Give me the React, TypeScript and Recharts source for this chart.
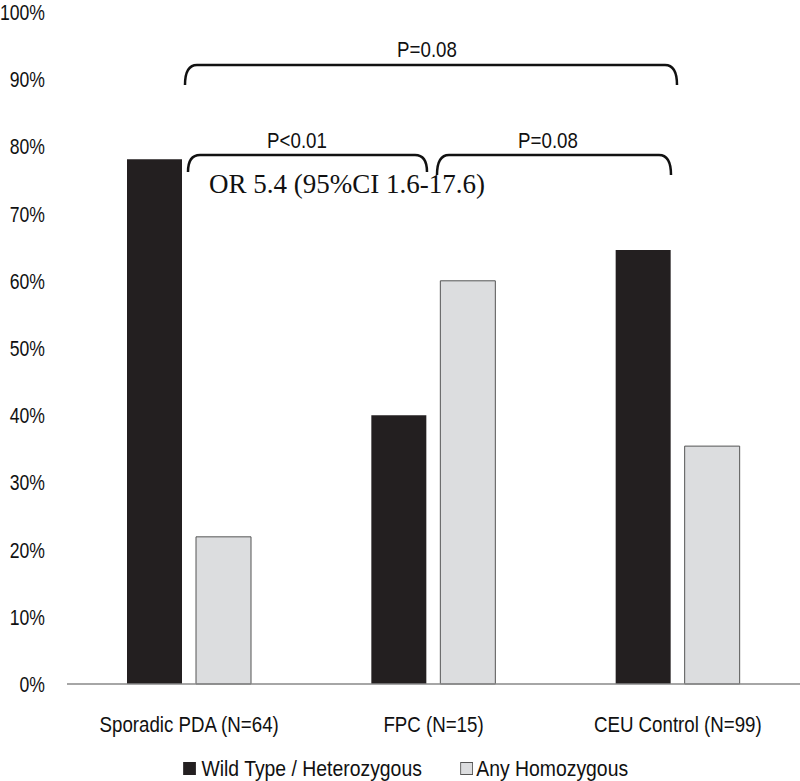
import React from 'react';
import { BarChart, Bar, XAxis, YAxis, Customized } from 'recharts';

const groups = ['Sporadic PDA (N=64)', 'FPC (N=15)', 'CEU Control (N=99)'];
const wildType = [78.1, 40.0, 64.6];
const homozygous = [21.9, 60.0, 35.4];
const yTicks = [0, 10, 20, 30, 40, 50, 60, 70, 80, 90, 100];

const data = groups.map((g, i) => ({ group: g, wild: wildType[i], homo: homozygous[i] }));

const sans = '"Liberation Sans", Arial, sans-serif';
const serif = '"Liberation Serif", "DejaVu Serif", serif';
const squeeze = 0.85;

const XTick = ({ x, y, payload }: any) => (
  <g transform={`translate(${x},${y})`}>
    <text transform={`scale(${squeeze},1)`} textAnchor="middle" dy="0.71em" fontFamily={sans} fontSize={22} fill="#111">
      {payload.value}
    </text>
  </g>
);

const YTick = ({ x, y, payload }: any) => (
  <g transform={`translate(${x},${y})`}>
    <text transform="scale(0.8,1)" textAnchor="end" dy="0.36em" fontFamily={sans} fontSize={22} fill="#111">
      {payload.value}%
    </text>
  </g>
);

const Label = ({ x, y, children }: any) => (
  <g transform={`translate(${x},${y})`}>
    <text transform={`scale(${squeeze},1)`} textAnchor="middle" dominantBaseline="central" fontFamily={sans} fontSize={22} fill="#111">
      {children}
    </text>
  </g>
);

const bracket = (x0: number, x1: number, top: number, bottom: number) =>
  `M${x0},${bottom} Q${x0},${top} ${x0 + 12},${top} L${x1 - 12},${top} Q${x1},${top} ${x1},${bottom}`;

const Brackets = () => (
  <g>
    <path d={bracket(185, 677, 65, 85)} fill="none" stroke="#111" strokeWidth={2.5} />
    <path d={bracket(188, 427, 155, 172)} fill="none" stroke="#111" strokeWidth={2.5} />
    <path d={bracket(437, 671, 155, 175)} fill="none" stroke="#111" strokeWidth={2.5} />
    <Label x={427} y={49}>P=0.08</Label>
    <Label x={297} y={140}>P&lt;0.01</Label>
    <Label x={548} y={140}>P=0.08</Label>
    <text x={209} y={193} fontFamily={serif} fontSize={27} fill="#111">OR 5.4 (95%CI 1.6-17.6)</text>
  </g>
);

const LegendBox = () => (
  <div style={{ position: 'absolute', left: 0, top: 755, width: 811, display: 'flex', justifyContent: 'center', fontFamily: sans, fontSize: 22.8, lineHeight: '26px', color: '#111', transform: `scaleX(${squeeze})`, transformOrigin: '405px 0' }}>
    <div style={{ display: 'flex', alignItems: 'center' }}>
      <span style={{ width: 15, height: 13, background: '#231f20', display: 'inline-block', marginRight: 7 }} />
      Wild Type / Heterozygous
    </div>
    <div style={{ display: 'flex', alignItems: 'center', marginLeft: 45 }}>
      <span style={{ width: 15, height: 13, background: '#dcdddf', border: '1px solid #555', boxSizing: 'border-box', display: 'inline-block', marginRight: 4 }} />
      Any Homozygous
    </div>
  </div>
);

export default function App() {
  return (
    <div style={{ position: 'absolute', left: 0, top: 0, width: 800, height: 781, background: '#fff', overflow: 'hidden' }}>
      <BarChart width={800} height={781} data={data} margin={{ top: 12, right: 0, bottom: 67, left: 7 }} barGap={14}>
        <XAxis
          dataKey="group"
          height={30}
          tickLine={false}
          axisLine={{ stroke: '#888', strokeWidth: 1.5 }}
          tick={<XTick />}
          tickSize={0}
          tickMargin={32}
        />
        <YAxis
          width={60}
          domain={[0, 100]}
          ticks={yTicks}
          axisLine={false}
          tickLine={false}
          tickSize={0}
          tickMargin={22}
          tick={<YTick />}
        />
        <Bar dataKey="wild" fill="#231f20" barSize={55} isAnimationActive={false} />
        <Bar dataKey="homo" fill="#dcdddf" stroke="#555" strokeWidth={1} barSize={55} isAnimationActive={false} />
        <Customized component={Brackets} />
      </BarChart>
      <LegendBox />
    </div>
  );
}
